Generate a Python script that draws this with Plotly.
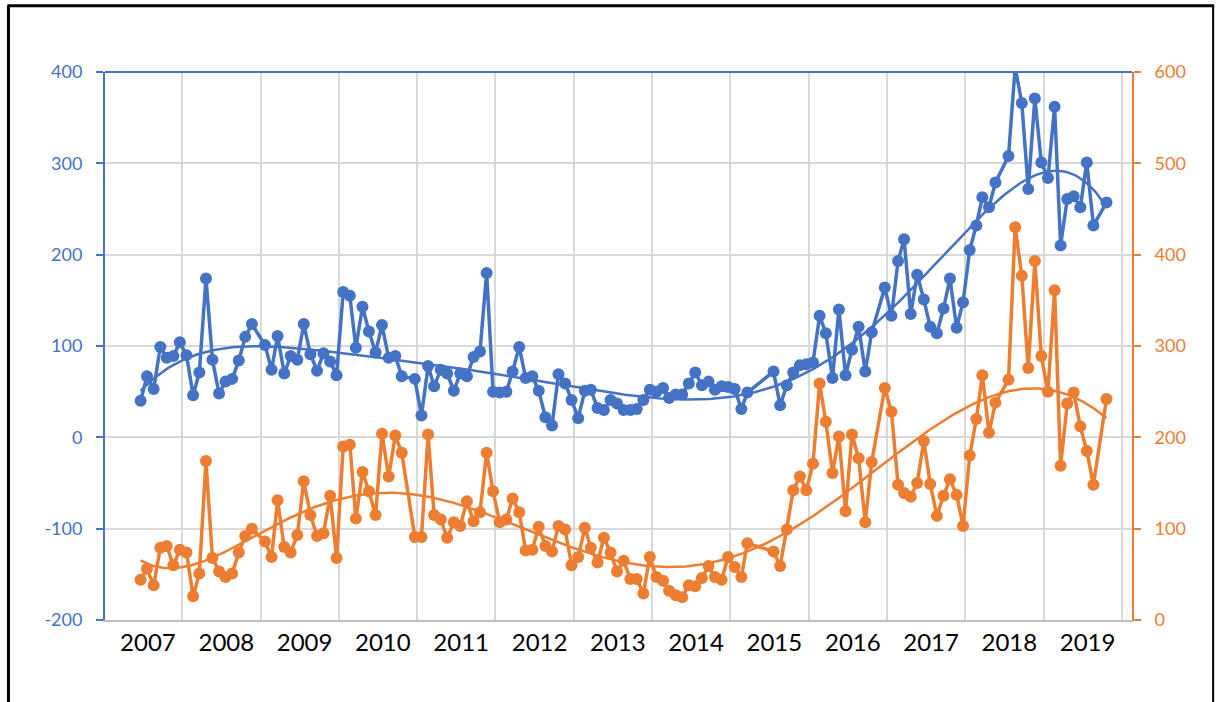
import numpy as np
import pandas as pd
import plotly.graph_objects as go

# ---------------- data (monthly, starting June 2007; None = no reading) ----------------
start_month = "2007-06-01"

blue_values = [
    40, 67, 53, 99, 87, 89, 104, 90, 46, 71, 174, 85, 48, 61, 64, 84, 110, 124, None, 101,
    74, 111, 70, 89, 85, 124, 91, 73, 92, 83, 68, 159, 155, 98, 143, 116, 93, 123, 87, 89,
    67, None, 64, 24, 78, 56, 74, 70, 51, 70, 67, 88, 94, 180, 50, 49, 50, 72, 99, 65,
    67, 51, 22, 13, 69, 59, 41, 21, 51, 52, 32, 30, 41, 37, 30, 30, 31, 41, 52, 50,
    54, 43, 47, 47, 59, 71, 57, 61, 52, 56, 55, 53, 31, 49, None, None, None, 72, 35, 57,
    71, 79, 80, 82, 133, 114, 65, 140, 68, 96, 121, 72, 115, None, 164, 133, 193, 217, 135, 178,
    151, 121, 114, 141, 174, 120, 148, 205, 232, 263, 252, 279, None, 308, 405, 366, 272, 371, 301, 284,
    362, 210, 261, 264, 252, 301, 232, None, 257,
]

orange_values = [
    44, 56, 38, 79, 81, 60, 77, 74, 26, 51, 174, 68, 53, 47, 51, 74, 92, 100, None, 86,
    69, 131, 80, 74, 93, 152, 115, 92, 95, 136, 68, 190, 192, 111, 162, 141, 115, 204, 157, 202,
    183, None, 91, 91, 203, 115, 110, 90, 107, 103, 130, 108, 118, 183, 141, 107, 110, 133, 118, 76,
    77, 102, 81, 75, 103, 99, 60, 69, 101, 79, 63, 90, 74, 53, 65, 45, 45, 29, 69, 47,
    43, 32, 27, 25, 38, 37, 46, 59, 47, 44, 69, 58, 47, 84, None, None, None, 75, 59, 99,
    142, 157, 142, 171, 259, 217, 161, 201, 119, 203, 177, 107, 173, None, 254, 228, 148, 139, 135, 150,
    196, 149, 114, 136, 154, 137, 103, 180, 220, 268, 205, 238, None, 263, 430, 377, 276, 393, 289, 250,
    361, 169, 237, 249, 212, 185, 148, None, 242,
]

years = list(range(2007, 2020))
year_labels = [str(y) for y in years]
left_ticks = [-200, -100, 0, 100, 200, 300, 400]
left_tick_labels = ["-200", "-100", "0", "100", "200", "300", "400"]

BLUE = "#4472C4"
ORANGE = "#ED7D31"
GRID = "#D9D9D9"

n = len(blue_values)
dates = pd.date_range(start_month, periods=n, freq="MS") + pd.Timedelta(days=20)


def poly_trend(values, order=6, steps=400):
    idx = np.array([i for i, v in enumerate(values) if v is not None], dtype=float)
    val = np.array([v for v in values if v is not None], dtype=float)
    t = idx / (n - 1)
    coef = np.polyfit(t, val, order)
    grid = np.linspace(idx.min(), idx.max(), steps)
    fit = np.polyval(coef, grid / (n - 1))
    gdates = dates[0] + pd.to_timedelta(grid * 30.4375, unit="D")
    return gdates, fit


fig = go.Figure()

fig.add_trace(go.Scatter(
    x=dates, y=blue_values, mode="lines+markers", connectgaps=True,
    line=dict(color=BLUE, width=3.5), marker=dict(size=12, color=BLUE),
    yaxis="y", showlegend=False, hoverinfo="x+y"))

fig.add_trace(go.Scatter(
    x=dates, y=orange_values, mode="lines+markers", connectgaps=True,
    line=dict(color=ORANGE, width=3.5), marker=dict(size=12, color=ORANGE),
    yaxis="y2", showlegend=False, hoverinfo="x+y"))

bx, by = poly_trend(blue_values)
fig.add_trace(go.Scatter(x=bx, y=by, mode="lines", line=dict(color=BLUE, width=2.5),
                         yaxis="y", showlegend=False, hoverinfo="skip"))
ox, oy = poly_trend(orange_values)
fig.add_trace(go.Scatter(x=ox, y=oy, mode="lines", line=dict(color=ORANGE, width=2.5),
                         yaxis="y2", showlegend=False, hoverinfo="skip"))

FONT = "Lato, 'Open Sans', sans-serif"

fig.update_layout(
    width=1217, height=702,
    margin=dict(l=105, r=85, t=72, b=82),
    paper_bgcolor="white", plot_bgcolor="white",
    font=dict(family=FONT),
    xaxis=dict(
        type="date",
        range=["2007-01-06", "2020-02-17"],
        tickmode="array",
        tickvals=[f"{y}-07-25" for y in years],
        ticktext=year_labels,
        ticks="", showgrid=False, zeroline=False,
        tickfont=dict(size=24, color="#000000", family=FONT),
        ticklabelstandoff=0,
        showline=True, linecolor="#BFBFBF", linewidth=2,
        minor=dict(tickmode="array",
                   tickvals=[f"{y}-01-01" for y in range(2008, 2021)],
                   showgrid=True, gridcolor=GRID, gridwidth=2, ticks=""),
    ),
    yaxis=dict(
        range=[-200, 400], tickmode="array", tickvals=left_ticks, ticktext=left_tick_labels,
        showgrid=True, gridcolor=GRID, gridwidth=2, zeroline=False,
        showline=True, linecolor=BLUE, linewidth=2,
        ticks="outside", ticklen=7, tickwidth=2, tickcolor=BLUE,
        tickfont=dict(size=18, color=BLUE, family=FONT),
        ticklabelstandoff=10,
    ),
    yaxis2=dict(
        range=[0, 600], tickmode="linear", tick0=0, dtick=100,
        overlaying="y", side="right", showgrid=False, zeroline=False,
        showline=True, linecolor=ORANGE, linewidth=2,
        ticks="outside", ticklen=7, tickwidth=2, tickcolor=ORANGE,
        tickfont=dict(size=18, color=ORANGE, family=FONT),
        ticklabelstandoff=10,
    ),
    shapes=[
        # blue top border of the plot area
        dict(type="line", xref="paper", yref="paper", x0=0, x1=1, y0=1, y1=1,
             line=dict(color=BLUE, width=2)),
        # black frame around the picture
        dict(type="line", xref="paper", yref="paper", x0=-0.094, x1=-0.094, y0=-0.2, y1=1.121,
             line=dict(color="#000000", width=3)),
        dict(type="line", xref="paper", yref="paper", x0=-0.095, x1=1.08, y0=1.121, y1=1.121,
             line=dict(color="#000000", width=3)),
        dict(type="line", xref="paper", yref="paper", x0=1.079, x1=1.079, y0=-0.2, y1=1.121,
             line=dict(color="#000000", width=2)),
    ],
)

fig.write_html(
    "out.html",
    config={"displayModeBar": False},
    post_script="document.body.style.margin='0px';document.body.style.overflow='hidden';",
)
